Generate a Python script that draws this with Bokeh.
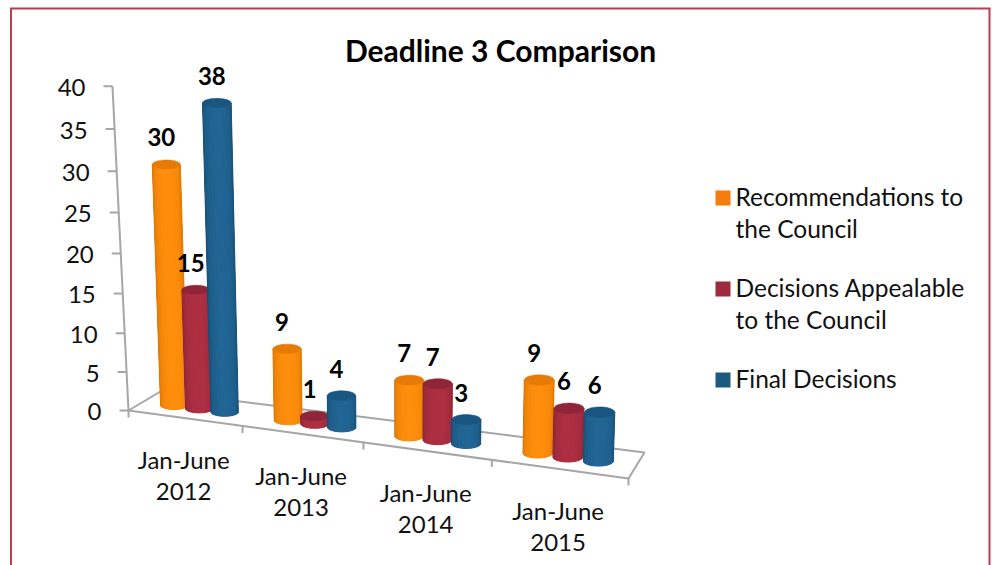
import numpy as np
from bokeh.plotting import figure
from bokeh.models import Range1d
from bokeh.core.properties import value
from bokeh.embed import file_html
from bokeh.resources import INLINE

# ---- data ----
title = "Deadline 3 Comparison"
periods = [["Jan-June", "2012"], ["Jan-June", "2013"], ["Jan-June", "2014"], ["Jan-June", "2015"]]
recommendations = [30, 9, 7, 9]
appealable = [15, 1, 7, 6]
final = [38, 4, 3, 6]
y_ticks = [0, 5, 10, 15, 20, 25, 30, 35, 40]
legend_lines = [["Recommendations to", "the Council"], ["Decisions Appealable", "to the Council"], ["Final Decisions"]]
series = [recommendations, appealable, final]

# ---- styles ----
FONT = value("Lato")
body_edge = ["#c96a00", "#7c1e2e", "#134466"]
body_mid = ["#ff8e0c", "#ad2e41", "#206594"]
top_col = ["#e67a05", "#8f2537", "#185580"]
legend_col = ["#f47d0c", "#9e2a3d", "#1d5a80"]
AXIS = "#a6a6a6"
BORDER = "#b5404f"


# ---- 3D projection (page pixels) ----
def floor(u, w):
    t = 110.8 * u / (1 - 0.0284 * u) / 500
    fx, fy = 128 + 500 * t, 410 + 68 * t
    bx, by = 160 + 484 * t, 391 + 61 * t
    return fx + (bx - fx) * w, fy + (by - fy) * w


def height(v, x):
    return (7.8 + (x - 190) * 0.0007) * v / (1 - 0.001 * v)


def axis_pt(v):
    h = 7.62 * v / (1 - 0.0015 * v)
    return 128 - 16 * h / 324, 410 - h


def mix(c1, c2, t):
    a = [int(c1[i:i + 2], 16) for i in (1, 3, 5)]
    c = [int(c2[i:i + 2], 16) for i in (1, 3, 5)]
    return "#%02x%02x%02x" % tuple(int(round(p + (q - p) * t)) for p, q in zip(a, c))


p = figure(width=992, height=565, x_range=Range1d(0, 992), y_range=Range1d(565, 0),
           output_backend="svg", toolbar_location=None, min_border=0,
           background_fill_color="white", border_fill_color="white", outline_line_color=None)
p.axis.visible = False
p.grid.visible = False

# frame
p.line([10.5, 10.5], [565, 8], line_color=BORDER, line_width=2)
p.line([9.5, 990], [8, 8], line_color=BORDER, line_width=2)
p.line([989, 989], [8, 565], line_color=BORDER, line_width=2)

# floor + axis lines
fl = [floor(*c) for c in [(0, 1), (0, 0), (4, 0), (4, 1), (0, 1)]]
p.line([c[0] for c in fl], [c[1] for c in fl], line_color=AXIS, line_width=2)
a0, a40 = axis_pt(0), axis_pt(max(y_ticks))
p.line([a0[0], a40[0]], [a0[1], a40[1]], line_color=AXIS, line_width=2)
for t in y_ticks:
    ax, ay = axis_pt(t)
    p.line([ax - 9, ax], [ay, ay], line_color=AXIS, line_width=2)
    p.text([ax - 27], [ay + 1], text=[str(t)], text_font=FONT, text_font_size="24px",
           text_color="#111111", text_align="right", text_baseline="middle")
for i in range(5):
    x, y = floor(i, 0)
    p.line([x, x], [y, y + 7], line_color=AXIS, line_width=2)

# cylinders
N = 12
thetas = np.linspace(-np.pi / 2, np.pi / 2, N + 1)
for c in range(len(periods)):
    for s, vals in enumerate(series):
        v = vals[c]
        bx, by = floor(c + 0.5 + (s - 1) * 0.225, 0.48)
        h = height(v, bx)
        tx = bx + (bx - 400) * h / 7000
        ty = by - h
        rb = (27 + (bx - 170) * 0.007) / 2
        rt = rb + h * 0.002
        ryb = 4.2 + (bx - 170) * 0.002
        ryt = ryb + 0.3
        xs, ys, cols = [], [], []
        for i in range(N):
            a1, a2 = thetas[i], thetas[i + 1]
            m = (a1 + a2) / 2
            shade = np.cos(m - 0.1) ** 0.5
            cols.append(mix(body_edge[s], body_mid[s], max(0.0, shade)))
            xs.append([bx + rb * np.sin(a1), bx + rb * np.sin(a2), tx + rt * np.sin(a2), tx + rt * np.sin(a1)])
            ys.append([by + ryb * np.cos(a1), by + ryb * np.cos(a2), ty + ryt * np.cos(a2), ty + ryt * np.cos(a1)])
        p.patches(xs, ys, fill_color=cols, line_color=cols, line_width=1)
        th = np.linspace(0, 2 * np.pi, 48)
        p.patch(tx + rt * np.cos(th), ty + ryt * np.sin(th), fill_color=top_col[s], line_color=top_col[s], line_width=0.5)
        p.text([tx - 5], [ty - 27], text=[str(v)], text_font=FONT, text_font_size="24px", text_font_style="bold",
               text_color="black", text_align="center", text_baseline="middle")

# category labels
for c, lines in enumerate(periods):
    x, y = floor(c + 0.5, 0)
    for j, line in enumerate(lines):
        p.text([x - 1], [y + 41 + 32 * j], text=[line], text_font=FONT, text_font_size="24px",
               text_color="#111111", text_align="center", text_baseline="middle")

# title
p.text([500], [49], text=[title], text_font=FONT, text_font_size="30px", text_font_style="bold",
       text_color="black", text_align="center", text_baseline="middle")

# legend
swatch_y = [197.5, 288.5, 379.5]
for s, lines in enumerate(legend_lines):
    p.rect([722.5], [swatch_y[s]], 15, 15, fill_color=legend_col[s], line_color=None)
    for j, line in enumerate(lines):
        p.text([735], [swatch_y[s] - 1.5 + 31.5 * j], text=[line], text_font=FONT, text_font_size="24.5px",
               text_color="#111111", text_align="left", text_baseline="middle")

open("out.html", "w").write(file_html(p, INLINE))
